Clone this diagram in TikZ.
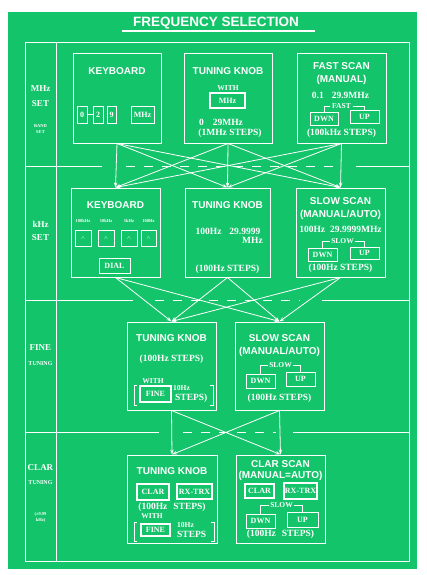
\documentclass[tikz,border=0pt]{standalone}
\usepackage{fontspec}
\setmainfont{Liberation Serif}
\setsansfont{Liberation Sans}
\usetikzlibrary{arrows.meta}
\definecolor{panel}{RGB}{20,196,106}
\newcommand{\fsz}[1]{\fontsize{#1}{#1}\selectfont}
\tikzset{
 txt/.style={text=white, inner sep=0pt, font=\bfseries\fsz{9.5}},
 ttl/.style={txt, font=\sffamily\bfseries\fsz{10}},
 sml/.style={txt, font=\bfseries\fsz{7.5}},
 tny/.style={txt, font=\bfseries\fsz{4.5}},
 box/.style={draw=white, line width=1pt, inner sep=0pt},
 btn/.style={draw=white, line width=0.9pt, text=white, inner sep=0pt, font=\bfseries\fsz{8}},
 tbtn/.style={btn, line width=1.8pt},
 conn/.style={draw=white, line width=0.8pt, -{Stealth[length=5pt,width=3.5pt]}},
 wl/.style={draw=white, line width=1pt},
 dl/.style={wl, dash pattern=on 9pt off 9pt},
 brk/.style={draw=white, line width=1pt},
}
\begin{document}
\begin{tikzpicture}[x=1pt,y=-1pt]
\useasboundingbox (0,0) rectangle (427,575);
\fill[white] (0,0) rectangle (427,575);
\fill[panel] (8,12) rectangle (417,569);

% title
\node[txt, font=\sffamily\bfseries\fsz{13.5}] (title) at (216,23) {FREQUENCY SELECTION};
\draw[wl, line width=1.6pt] (122,31) -- (315,31);

% frame
\draw[wl] (25,43) rectangle (409,561);
\draw[wl] (56,43) -- (56,561);
\draw[wl] (25,166) -- (102,166);
\draw[dl] (126,166) -- (337,166);
\draw[wl] (356,166) -- (409,166);
\draw[wl] (25,300) -- (133,300);
\draw[dl] (155,300) -- (300,300);
\draw[wl] (322,300) -- (409,300);
\draw[wl] (25,432) -- (159,432);
\draw[dl] (183,432) -- (276,432);
\draw[wl] (293,432) -- (409,432);

% left labels
\node[txt, font=\bfseries\fsz{9}] (l1a) at (40.5,89) {MHz};
\node[txt, font=\bfseries\fsz{9}] (l1b) at (40.5,104) {SET};
\node[tny] (l1c) at (40.5,126) {BAND};
\node[tny] (l1d) at (40.5,132) {SET};
\node[txt, font=\bfseries\fsz{9}] (l2a) at (40.5,224) {kHz};
\node[txt, font=\bfseries\fsz{9}] (l2b) at (40.5,238) {SET};
\node[txt, font=\bfseries\fsz{9}] (l3a) at (40.5,348) {FINE};
\node[txt, font=\bfseries\fsz{6}] (l3b) at (40.5,364) {TUNING};
\node[txt, font=\bfseries\fsz{9}] (l4a) at (40.5,468) {CLAR};
\node[txt, font=\bfseries\fsz{6}] (l4b) at (40.5,483) {TUNING};
\node[tny] (l4c) at (40.5,514) {(\textpm9.99};
\node[tny] (l4d) at (40.5,520) {kHz)};

% ---------- row 1 ----------
\node[box, minimum width=88pt, minimum height=89pt] (kb1) at (117,98.5) {};
\node[ttl] (kb1t) at (117,71) {KEYBOARD};
\node[btn, minimum width=10pt, minimum height=17pt] (kb1a) at (82,114.5) {0};
\node[btn, minimum width=10pt, minimum height=17pt] (kb1b) at (98,114.5) {2};
\node[btn, minimum width=9pt, minimum height=17pt] (kb1c) at (111.5,114.5) {9};
\node[btn, minimum width=23pt, minimum height=17pt] (kb1m) at (142.5,114.5) {MHz};
\draw[wl, line width=0.8pt] (kb1a.east) -- (kb1b.west);

\node[box, minimum width=88pt, minimum height=89pt] (tk1) at (228,98.5) {};
\node[ttl] (tk1t) at (228,71) {TUNING KNOB};
\node[sml] (tk1w) at (228,88) {WITH};
\node[tbtn, minimum width=35pt, minimum height=15pt] (tk1m) at (227.5,100.5) {MHz};
\node[txt] (tk1r) at (221,122) {0\hspace{9pt}29MHz};
\node[txt] (tk1s) at (230,133) {(1MHz STEPS)};

\node[box, minimum width=89pt, minimum height=89pt] (fs1) at (341.5,98.5) {};
\node[ttl] (fs1t) at (341.5,66) {FAST SCAN};
\node[ttl] (fs1u) at (341.5,80) {(MANUAL)};
\node[txt] (fs1r) at (340.5,95) {0.1\hspace{8pt}29.9MHz};
\node[btn, minimum width=28pt, minimum height=13pt] (fs1d) at (324,118.5) {DWN};
\node[btn, minimum width=29pt, minimum height=13pt] (fs1u2) at (364.5,116.5) {UP};
\node[sml, inner sep=1.5pt] (fs1f) at (341.5,106) {FAST};
\draw[wl, line width=0.8pt] (fs1f.west) -| (fs1d.north);
\draw[wl, line width=0.8pt] (fs1f.east) -| (fs1u2.north);
\node[txt] (fs1s) at (341.5,133) {(100kHz STEPS)};

% ---------- row 2 ----------
\node[box, minimum width=89pt, minimum height=89pt] (kb2) at (115.5,232.5) {};
\node[ttl] (kb2t) at (115.5,205) {KEYBOARD};
\node[tny] (kb2l1) at (83,221) {100kHz};
\node[tny] (kb2l2) at (106,221) {10kHz};
\node[tny] (kb2l3) at (129,221) {1kHz};
\node[tny] (kb2l4) at (148.5,221) {100Hz};
\node[btn, minimum width=16pt, minimum height=16pt] (kb2a) at (83,238) {$\scriptscriptstyle\wedge$};
\node[btn, minimum width=16pt, minimum height=16pt] (kb2b) at (106,238) {$\scriptscriptstyle\wedge$};
\node[btn, minimum width=16pt, minimum height=16pt] (kb2c) at (129,238) {$\scriptscriptstyle\wedge$};
\node[btn, minimum width=15pt, minimum height=16pt] (kb2d) at (148.5,238) {$\scriptscriptstyle\wedge$};
\node[btn, minimum width=31pt, minimum height=15pt] (kb2dial) at (114.5,265.5) {DIAL};

\node[box, minimum width=85pt, minimum height=89pt] (tk2) at (227.5,232.5) {};
\node[ttl] (tk2t) at (227.5,205) {TUNING KNOB};
\node[txt] (tk2r) at (228,231) {100Hz\hspace{8pt}29.9999};
\node[txt, anchor=east] (tk2m) at (263,240) {MHz};
\node[txt] (tk2s) at (227.5,269) {(100Hz STEPS)};

\node[box, minimum width=89pt, minimum height=89pt] (ss2) at (340.5,232.5) {};
\node[ttl] (ss2t) at (340.5,201) {SLOW SCAN};
\node[ttl] (ss2u) at (340.5,215) {(MANUAL/AUTO)};
\node[txt] (ss2r) at (340.5,229) {100Hz\hspace{5pt}29.9999MHz};
\node[btn, minimum width=29pt, minimum height=13pt] (ss2d) at (322.5,254.5) {DWN};
\node[btn, minimum width=29pt, minimum height=12pt] (ss2u2) at (364.5,253) {UP};
\node[sml, inner sep=1.5pt] (ss2f) at (342.5,241) {SLOW};
\draw[wl, line width=0.8pt] (ss2f.west) -| (ss2d.north);
\draw[wl, line width=0.8pt] (ss2f.east) -| (ss2u2.north);
\node[txt] (ss2s) at (340.5,268) {(100Hz STEPS)};

% ---------- row 3 ----------
\node[box, minimum width=89pt, minimum height=88pt] (tk3) at (171.5,366) {};
\node[ttl] (tk3t) at (171.5,338) {TUNING KNOB};
\node[txt] (tk3s) at (171.5,359) {(100Hz STEPS)};
\node[sml] (tk3w) at (153,381) {WITH};
\node[tbtn, minimum width=31pt, minimum height=16pt] (tk3f) at (155.5,394) {FINE};
\node[sml, anchor=west] (tk3h) at (173,388) {10Hz};
\node[txt, anchor=west] (tk3p) at (175,398) {STEPS)};
\draw[brk] (137,385) -- (134,385) -- (134,405) -- (137,405);
\draw[brk] (210,385) -- (213,385) -- (213,405) -- (210,405);

\node[box, minimum width=89pt, minimum height=88pt] (ss3) at (279.5,366) {};
\node[ttl] (ss3t) at (279.5,338) {SLOW SCAN};
\node[ttl] (ss3u) at (279.5,352) {(MANUAL/AUTO)};
\node[btn, minimum width=29pt, minimum height=14pt] (ss3d) at (260.5,381) {DWN};
\node[btn, minimum width=29pt, minimum height=14pt] (ss3u2) at (300.5,379) {UP};
\node[sml, inner sep=1.5pt] (ss3f) at (280.5,365) {SLOW};
\draw[wl, line width=0.8pt] (ss3f.west) -| (ss3d.north);
\draw[wl, line width=0.8pt] (ss3f.east) -| (ss3u2.north);
\node[txt] (ss3s) at (279.5,398) {(100Hz STEPS)};

% ---------- row 4 ----------
\node[box, minimum width=90pt, minimum height=88pt] (tk4) at (172,499) {};
\node[ttl] (tk4t) at (172,471) {TUNING KNOB};
\node[tbtn, minimum width=32pt, minimum height=16pt] (tk4c) at (153,492) {CLAR};
\node[tbtn, minimum width=35pt, minimum height=15pt] (tk4r) at (194.5,491.5) {RX-TRX};
\node[txt] (tk4s) at (172,507.5) {(100Hz\hspace{6pt}STEPS)};
\node[sml] (tk4w) at (152,516) {WITH};
\node[tbtn, minimum width=29pt, minimum height=12pt] (tk4f) at (155.5,530) {FINE};
\node[sml, anchor=west] (tk4h) at (177,525) {10Hz};
\node[txt, anchor=west] (tk4p) at (177,534.5) {STEPS};
\draw[brk] (137,522) -- (134,522) -- (134,541) -- (137,541);
\draw[brk] (211,522) -- (214,522) -- (214,541) -- (211,541);

\node[box, minimum width=89pt, minimum height=88pt] (cs4) at (280.5,499) {};
\node[ttl] (cs4t) at (280.5,464) {CLAR SCAN};
\node[ttl] (cs4u) at (280.5,476) {(MANUAL=AUTO)};
\node[tbtn, minimum width=29pt, minimum height=14pt] (cs4c) at (259.5,491) {CLAR};
\node[tbtn, minimum width=33pt, minimum height=16pt] (cs4r) at (300.5,491) {RX-TRX};
\node[sml, inner sep=1.5pt] (cs4f) at (281.5,505) {SLOW};
\node[btn, minimum width=29pt, minimum height=14pt] (cs4d) at (260.5,521) {DWN};
\node[btn, minimum width=31pt, minimum height=15pt] (cs4u2) at (302.5,519.5) {UP};
\draw[wl, line width=0.8pt] (cs4f.west) -| (cs4d.north);
\draw[wl, line width=0.8pt] (cs4f.east) -| (cs4u2.north);
\node[txt] (cs4s) at (280.5,534) {(100Hz\hspace{6pt}STEPS)};

% ---------- connectors ----------
\foreach \a in {kb1,tk1,fs1}
  \foreach \b in {kb2,tk2,ss2}
    \draw[conn] (\a.south) -- (\b.north);
\foreach \a in {kb2,tk2,ss2}
  \foreach \b in {tk3,ss3}
    \draw[conn] (\a.south) -- (\b.north);
\foreach \a in {tk3,ss3}
  \foreach \b in {tk4,cs4}
    \draw[conn] (\a.south) -- (\b.north);
\end{tikzpicture}
\end{document}
